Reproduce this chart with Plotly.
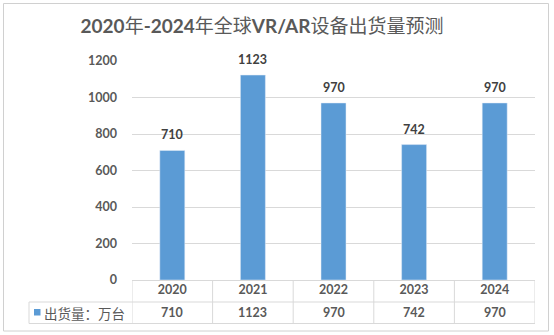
import plotly.graph_objects as go

years = ["2020", "2021", "2022", "2023", "2024"]
shipments = [710, 1123, 970, 742, 970]
series_name = "出货量：万台"
title_text = "<b>2020</b>年<b>-2024</b>年全球<b>VR/AR</b>设备出货量预测"
y_ticks = [0, 200, 400, 600, 800, 1000, 1200]

W, H = 554, 335
L, R, T, B = 132, 19, 61, 55
PW, PH = W - L - R, H - T - B

def px(x):
    return (x - L) / PW

def py(y):
    return (H - B - y) / PH

BAR = "#5b9bd5"
GRID = "#d9d9d9"
TXT = "#595959"
FONT = "Lato, Noto Sans CJK SC, sans-serif"

fig = go.Figure()
fig.add_trace(go.Bar(x=years, y=shipments, marker_color=BAR, width=0.31,
                     name=series_name, showlegend=False))

ann = []
for i, v in enumerate(shipments):
    ann.append(dict(x=i, y=v, xref="x", yref="y", text=f"<b>{v}</b>",
                    showarrow=False, yanchor="bottom", yshift=6,
                    font=dict(size=12.5, color="#404040", family=FONT)))
    # table value row
    ann.append(dict(x=i, y=py(312.5), xref="x", yref="paper", text=f"<b>{v}</b>",
                    showarrow=False, yanchor="middle",
                    font=dict(size=12.5, color=TXT, family=FONT)))

ann.append(dict(x=px(42), y=py(312.5), xref="paper", yref="paper", text=series_name,
                showarrow=False, xanchor="left", yanchor="middle",
                font=dict(size=13.5, color=TXT, family="Noto Sans CJK SC")))

shapes = []
line = dict(color=GRID, width=1)
# table horizontal lines
shapes.append(dict(type="line", xref="paper", yref="paper", x0=0, x1=1, y0=py(280.5), y1=py(280.5), line=line))
shapes.append(dict(type="line", xref="paper", yref="paper", x0=px(29), x1=1, y0=py(302), y1=py(302), line=line))
shapes.append(dict(type="line", xref="paper", yref="paper", x0=px(29), x1=1, y0=py(323.5), y1=py(323.5), line=line))
# vertical lines
shapes.append(dict(type="line", xref="paper", yref="paper", x0=px(29), x1=px(29), y0=py(302), y1=py(323.5), line=line))
for i in range(len(years) + 1):
    shapes.append(dict(type="line", xref="x", yref="paper", x0=i - 0.5, x1=i - 0.5,
                       y0=py(280.5), y1=py(323.5), line=line))
# legend key
shapes.append(dict(type="rect", xref="paper", yref="paper", x0=px(34), x1=px(40.5),
                   y0=py(315.5), y1=py(309), fillcolor=BAR, line=dict(width=0)))
# outer border
shapes.append(dict(type="rect", xref="paper", yref="paper", x0=px(3.5), x1=px(548.5),
                   y0=py(3.5), y1=py(331), line=dict(color="#d0d0d0", width=1),
                   fillcolor="rgba(0,0,0,0)"))

fig.update_layout(
    width=W, height=H,
    margin=dict(l=L, r=R, t=T, b=B, pad=0),
    paper_bgcolor="white", plot_bgcolor="white",
    title=dict(text=title_text, x=262 / W, xref="container", xanchor="center",
               y=1 - 26 / H, yanchor="middle",
               font=dict(size=19, color=TXT, family=FONT)),
    xaxis=dict(type="category", range=[-0.5, len(years) - 0.5],
               showgrid=False, showline=False, ticks="", zeroline=False,
               tickfont=dict(size=12.5, color=TXT, family=FONT, weight="bold")),
    yaxis=dict(range=[0, 1200], tickvals=y_ticks, showgrid=True, gridcolor=GRID,
               gridwidth=1, zeroline=False, showline=False, ticks="",
               ticklabelstandoff=14,
               tickfont=dict(size=12.5, color=TXT, family=FONT, weight="bold")),
    annotations=ann, shapes=shapes, bargap=0.69,
)

fig.write_html("out.html")
